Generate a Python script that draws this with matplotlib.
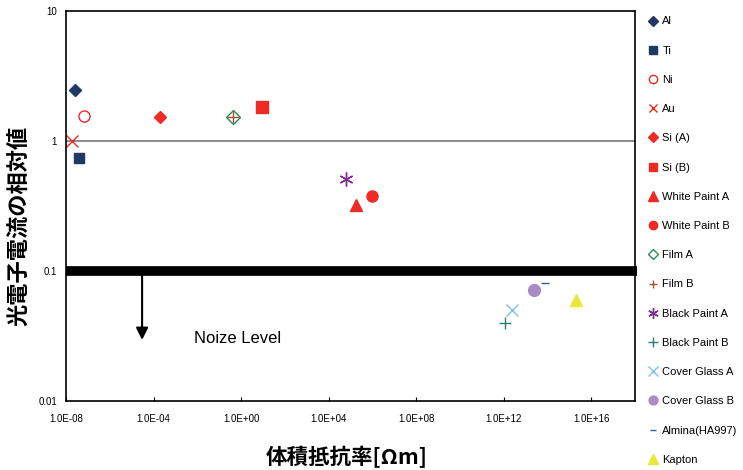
import matplotlib.pyplot as plt
import numpy as np

plt.rcParams['font.family'] = ['Liberation Sans', 'Noto Sans CJK JP', 'DejaVu Sans']

# material name, resistivity [Ohm m], relative photoelectron current
names = ['Al', 'Ti', 'Ni', 'Au', 'Si (A)', 'Si (B)', 'White Paint A', 'White Paint B',
         'Film A', 'Film B', 'Black Paint A', 'Black Paint B', 'Cover Glass A',
         'Cover Glass B', 'Almina(HA997)', 'Kapton']
resistivity = [2.5e-8, 4.0e-8, 6.6e-8, 1.9e-8, 2.0e-4, 9.0, 1.7e5, 1.0e6,
               0.43, 0.43, 6.0e4, 1.1e12, 2.5e12, 2.5e13, 7.5e13, 2.0e15]
current = [2.47, 0.74, 1.56, 1.0, 1.53, 1.83, 0.32, 0.38,
           1.53, 1.53, 0.51, 0.040, 0.050, 0.0715, 0.081, 0.060]

# marker, colour, filled, size
styles = [
    ('D', '#1F3864', True, 6.5),
    ('s', '#1F3864', True, 7.5),
    ('o', '#EE2A24', False, 8),
    ('x', '#EE2A24', True, 8),
    ('D', '#EE2A24', True, 6.5),
    ('s', '#EE2A24', True, 8),
    ('^', '#EE2A24', True, 9),
    ('o', '#EE2A24', True, 8),
    ('D', '#2E8B57', False, 7),
    ('+', '#A0522D', True, 8),
    ((6, 2, 0), '#7B2D8E', True, 10),
    ('+', '#2E7D7D', True, 9),
    ('x', '#7EC0EE', True, 9),
    ('o', '#A98BC6', True, 8.5),
    ('_', '#3060B0', True, 6),
    ('^', '#E8E83A', True, 9),
]

fig = plt.figure(figsize=(7.43, 4.70), dpi=100)
ax = fig.add_axes([66 / 743, 1 - 401 / 470, (635 - 66) / 743, (401 - 11) / 470])

for name, x, y, (m, c, filled, s) in zip(names, resistivity, current, styles):
    ax.plot(x, y, linestyle='none', marker=m, markersize=s,
            color=c, markerfacecolor=c if filled else 'none',
            markeredgecolor=c, markeredgewidth=1.0, label=name)

ax.set_xscale('log')
ax.set_yscale('log')
ax.set_xlim(1e-8, 1e18)
ax.set_ylim(0.01, 10)

ax.axhline(1, color='#777777', linewidth=1.2, zorder=0)
ax.plot([1e-8, 1.25e18], [0.1, 0.1], color='black', linewidth=7, solid_capstyle='butt',
        clip_on=False, zorder=1)
ax.annotate('', xy=(3e-5, 0.0295), xytext=(3e-5, 0.1),
            arrowprops=dict(arrowstyle='-|>', color='black', lw=1.5,
                            mutation_scale=18, shrinkA=0, shrinkB=0))
ax.text(0.7, 0.0305, 'Noize Level', fontsize=12, ha='center', va='center')

xt = [1e-8, 1e-4, 1e0, 1e4, 1e8, 1e12, 1e16]
ax.set_xticks(xt)
ax.set_xticklabels(['1.0E-08', '1.0E-04', '1.0E+00', '1.0E+04', '1.0E+08', '1.0E+12', '1.0E+16'],
                   fontsize=7)
ax.xaxis.set_minor_locator(plt.NullLocator())
ax.yaxis.set_minor_locator(plt.NullLocator())
ax.set_yticks([0.01, 0.1, 1, 10])
ax.set_yticklabels(['0.01', '0.1', '1', '10'], fontsize=7)
ax.tick_params(axis='x', direction='in', length=3, pad=9)
ax.tick_params(axis='y', length=0, pad=6.5)
for sp in ax.spines.values():
    sp.set_linewidth(1.2)

fig.text(347 / 743, 1 - 457 / 470, '体積抵抗率[Ωm]', fontsize=15.5, fontweight='bold',
         ha='center', va='center', family=['Noto Sans CJK JP', 'DejaVu Sans'])
fig.text(19 / 743, 1 - 226 / 470, '光電子電流の相対値', fontsize=16, fontweight='bold',
         rotation=90, ha='center', va='center', family=['Noto Sans CJK JP', 'DejaVu Sans'])

h, l = ax.get_legend_handles_labels()
fig.legend(h, l, loc='upper left', bbox_to_anchor=(644 / 743, 1 - 12 / 470),
           frameon=False, fontsize=8.0, labelspacing=1.73, handlelength=0.8,
           handletextpad=0.45, markerscale=0.75, borderaxespad=0)

fig.savefig('out.png', dpi=100)
